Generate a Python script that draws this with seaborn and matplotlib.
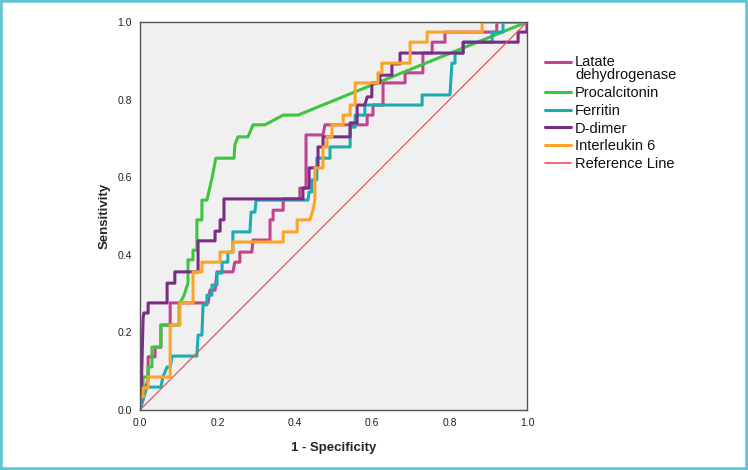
import pandas as pd
import matplotlib
matplotlib.use("Agg")
import matplotlib.pyplot as plt
import seaborn as sns
from matplotlib import font_manager
from matplotlib.patches import Rectangle
from matplotlib.lines import Line2D

# ROC curve vertices (1 - specificity, sensitivity)
ldh_fpr = [0, 0.008, 0.021, 0.021, 0.039, 0.039, 0.054, 0.054, 0.078, 0.078, 0.176, 0.181, 0.194, 0.199,
           0.240, 0.245, 0.258, 0.258, 0.289, 0.292, 0.336, 0.336, 0.344, 0.344, 0.370, 0.370, 0.413, 0.413,
           0.429, 0.429, 0.473, 0.478, 0.587, 0.587, 0.602, 0.602, 0.628, 0.628, 0.685, 0.685, 0.731, 0.731,
           0.755, 0.755, 0.788, 0.788, 0.922, 0.922, 1]
ldh_tpr = [0, 0.039, 0.077, 0.137, 0.137, 0.162, 0.162, 0.219, 0.219, 0.276, 0.276, 0.309, 0.309, 0.356,
           0.356, 0.381, 0.381, 0.407, 0.407, 0.438, 0.438, 0.490, 0.490, 0.515, 0.515, 0.544, 0.544, 0.572,
           0.572, 0.709, 0.709, 0.735, 0.735, 0.760, 0.760, 0.786, 0.786, 0.843, 0.843, 0.869, 0.869, 0.920,
           0.920, 0.948, 0.948, 0.974, 0.974, 1, 1]

pct_fpr = [0, 0.008, 0.008, 0.021, 0.021, 0.031, 0.031, 0.054, 0.054, 0.101, 0.101, 0.114, 0.124, 0.124,
           0.137, 0.137, 0.147, 0.147, 0.160, 0.160, 0.173, 0.186, 0.196, 0.243, 0.245, 0.253, 0.279, 0.292,
           0.323, 0.370, 0.408, 1]
pct_tpr = [0, 0.030, 0.085, 0.085, 0.111, 0.111, 0.162, 0.162, 0.219, 0.219, 0.271, 0.296, 0.327, 0.387,
           0.387, 0.412, 0.412, 0.490, 0.490, 0.541, 0.541, 0.598, 0.649, 0.649, 0.683, 0.704, 0.704, 0.735,
           0.735, 0.760, 0.760, 1]

fer_fpr = [0, 0.008, 0.013, 0.018, 0.054, 0.059, 0.070, 0.078, 0.083, 0.147, 0.150, 0.160, 0.163, 0.173,
           0.173, 0.186, 0.186, 0.199, 0.199, 0.212, 0.212, 0.227, 0.227, 0.240, 0.240, 0.284, 0.287, 0.297,
           0.300, 0.434, 0.437, 0.444, 0.444, 0.457, 0.457, 0.491, 0.491, 0.543, 0.543, 0.556, 0.556, 0.581,
           0.581, 0.729, 0.729, 0.801, 0.806, 0.814, 0.814, 0.835, 0.835, 0.910, 0.910, 0.938, 0.938, 1]
fer_tpr = [0, 0.026, 0.044, 0.059, 0.059, 0.085, 0.111, 0.111, 0.139, 0.139, 0.193, 0.193, 0.271, 0.271,
           0.296, 0.296, 0.322, 0.322, 0.353, 0.353, 0.381, 0.381, 0.407, 0.407, 0.459, 0.459, 0.510, 0.510,
           0.541, 0.541, 0.562, 0.562, 0.593, 0.593, 0.649, 0.649, 0.678, 0.678, 0.729, 0.729, 0.760, 0.760,
           0.786, 0.786, 0.812, 0.812, 0.894, 0.894, 0.920, 0.920, 0.948, 0.948, 0.974, 0.974, 1, 1]

ddi_fpr = [0, 0.003, 0.008, 0.010, 0.021, 0.021, 0.070, 0.070, 0.090, 0.090, 0.150, 0.150, 0.194, 0.194,
           0.207, 0.207, 0.217, 0.217, 0.421, 0.421, 0.437, 0.437, 0.460, 0.460, 0.473, 0.473, 0.543, 0.543,
           0.561, 0.561, 0.581, 0.587, 0.599, 0.599, 0.620, 0.620, 0.651, 0.651, 0.672, 0.672, 0.835, 0.835,
           0.977, 0.977, 1, 1]
ddi_tpr = [0, 0.039, 0.237, 0.250, 0.250, 0.276, 0.276, 0.327, 0.327, 0.356, 0.356, 0.436, 0.436, 0.461,
           0.461, 0.490, 0.490, 0.544, 0.544, 0.572, 0.572, 0.624, 0.624, 0.678, 0.678, 0.704, 0.704, 0.740,
           0.740, 0.786, 0.786, 0.807, 0.807, 0.843, 0.843, 0.863, 0.863, 0.892, 0.892, 0.920, 0.920, 0.948,
           0.948, 0.974, 0.974, 1]

il6_fpr = [0, 0, 0.008, 0.008, 0.021, 0.021, 0.078, 0.078, 0.103, 0.103, 0.137, 0.137, 0.160, 0.160,
           0.207, 0.207, 0.240, 0.240, 0.370, 0.370, 0.406, 0.406, 0.439, 0.447, 0.452, 0.452, 0.473, 0.473,
           0.483, 0.483, 0.496, 0.496, 0.525, 0.525, 0.543, 0.543, 0.556, 0.556, 0.615, 0.615, 0.625, 0.625,
           0.698, 0.698, 0.742, 0.742, 0.884, 0.884, 1]
il6_tpr = [0, 0.034, 0.034, 0.057, 0.057, 0.085, 0.085, 0.219, 0.219, 0.276, 0.276, 0.356, 0.356, 0.381,
           0.381, 0.407, 0.407, 0.433, 0.433, 0.459, 0.459, 0.490, 0.490, 0.515, 0.541, 0.624, 0.624, 0.678,
           0.678, 0.704, 0.704, 0.735, 0.735, 0.760, 0.760, 0.786, 0.786, 0.843, 0.843, 0.869, 0.869, 0.894,
           0.894, 0.948, 0.948, 0.974, 0.974, 1, 1]

ref_x = [0, 1]
ref_y = [0, 1]

markers = ["Latate\ndehydrogenase", "Procalcitonin", "Ferritin", "D-dimer", "Interleukin 6"]
colors = ["#c2448e", "#3ec43e", "#1cadb0", "#7a2c86", "#fda428"]
ref_color = "#f05252"

curves = [(ldh_fpr, ldh_tpr), (pct_fpr, pct_tpr), (fer_fpr, fer_tpr), (ddi_fpr, ddi_tpr), (il6_fpr, il6_tpr)]
df = pd.concat([pd.DataFrame({"fpr": f, "tpr": t, "marker": m}) for (f, t), m in zip(curves, markers)],
               ignore_index=True)

sns.set_style("white")
names = {f.name for f in font_manager.fontManager.ttflist}
narrow = "Liberation Sans Narrow" if "Liberation Sans Narrow" in names else "Liberation Sans"
plt.rcParams["font.family"] = ["Liberation Sans", "DejaVu Sans"]

fig = plt.figure(figsize=(7.48, 4.70), dpi=100)
ax = fig.add_axes([140 / 748, 60 / 470, 387 / 748, 388 / 470])
ax.set_facecolor("#f0f0f0")

sns.lineplot(data=df, x="fpr", y="tpr", hue="marker", hue_order=markers, palette=colors,
             sort=False, estimator=None, lw=2.2, ax=ax, legend=False)
sns.lineplot(x=ref_x, y=ref_y, color=ref_color, lw=0.9, ax=ax)

ax.set_xlim(0, 1)
ax.set_ylim(0, 1)
ticks = [0, 0.2, 0.4, 0.6, 0.8, 1.0]
ax.set_xticks(ticks)
ax.set_yticks(ticks)
ax.set_xticklabels([f"{t:.1f}" for t in ticks], family=narrow, fontsize=7.5)
ax.set_yticklabels([f"{t:.1f}" for t in ticks], family=narrow, fontsize=7.5)
ax.tick_params(direction="out", length=4, width=1, color="#444444", pad=2, labelcolor="#222222")
for s in ax.spines.values():
    s.set_visible(True)
    s.set_color("#555555")
    s.set_linewidth(1.0)

ax.set_xlabel("1 - Specificity", family=narrow, fontsize=9.5, fontweight="bold", labelpad=10)
ax.set_ylabel("Sensitivity", family=narrow, fontsize=9.5, fontweight="bold", labelpad=5)

handles = [Line2D([], [], color=c, lw=2.2) for c in colors] + [Line2D([], [], color=ref_color, lw=1.2)]
labels = markers + ["Reference Line"]
leg = fig.legend(handles, labels, loc="upper left", bbox_to_anchor=(538 / 748, 1 - 48 / 470),
                 frameon=False, fontsize=10.5, borderpad=0, handlelength=1.75, handletextpad=0.3,
                 labelspacing=0.26)
for t in leg.get_texts():
    t.set_linespacing(0.9)
    t.set_color("#111111")
# the two-line entry has its line next to the first row of text
first = leg.legend_handles[0]
first.set_ydata([v + 5 for v in first.get_ydata()])

fig.add_artist(Rectangle((0, 0), 1, 1, transform=fig.transFigure, fill=False,
                         edgecolor="#63c4d4", linewidth=4))

fig.savefig("out.png", dpi=100)
